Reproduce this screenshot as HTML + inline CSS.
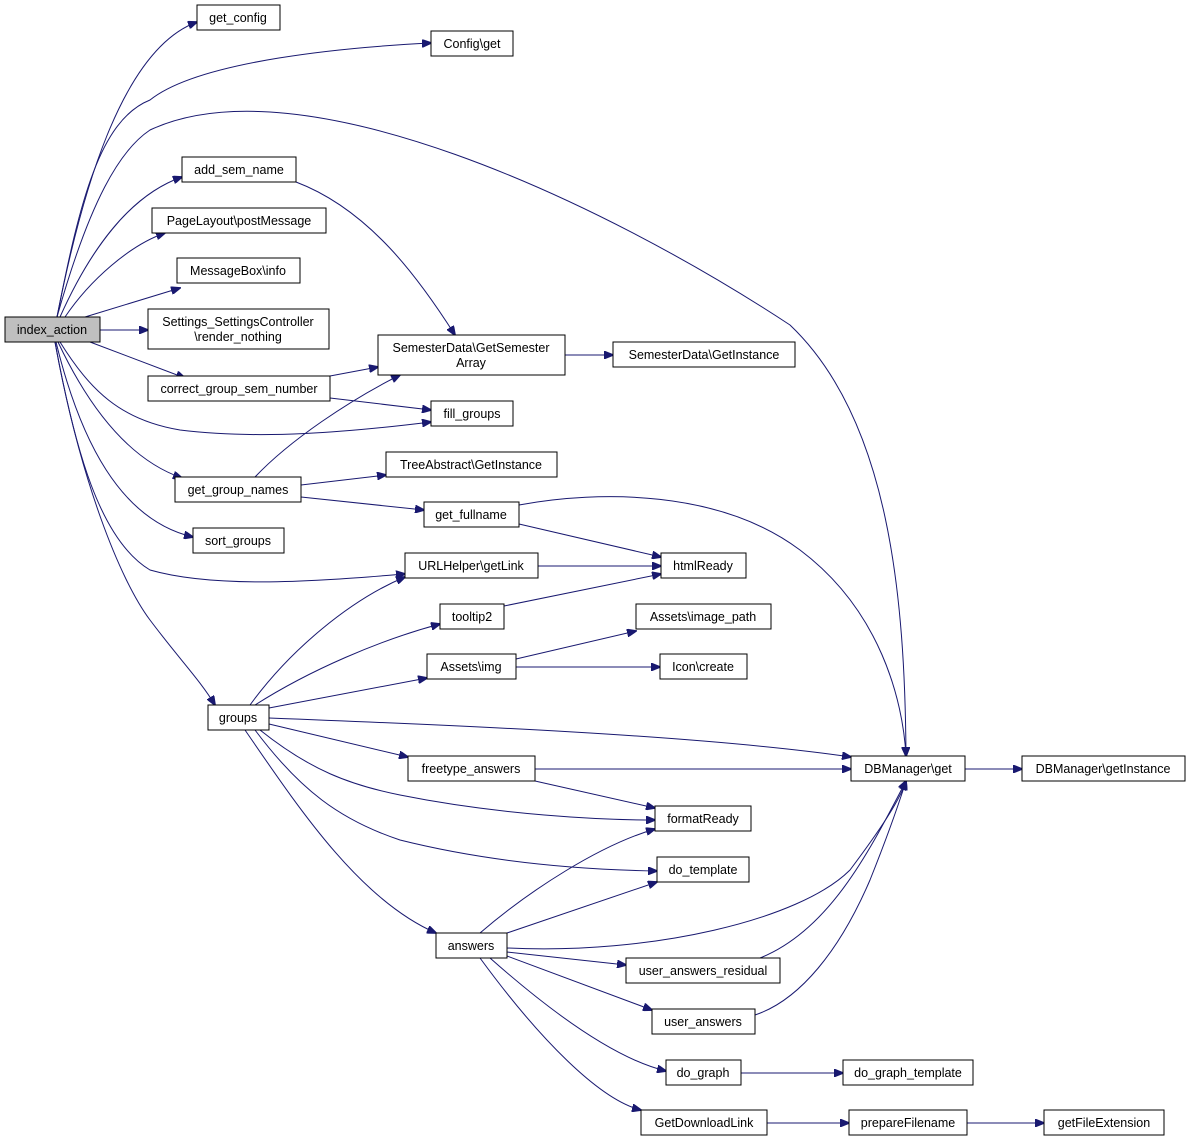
<!DOCTYPE html>
<html><head><meta charset="utf-8"><style>
html,body{margin:0;padding:0;background:#fff;}
svg{display:block;}
text{font-family:"Liberation Sans",Arial,sans-serif;font-size:12.5px;fill:#000;text-anchor:middle;}
.n{fill:#fff;stroke:#000;stroke-width:1;}
.e{fill:none;stroke:#191970;stroke-width:1;}
</style></head><body>
<svg width="1191" height="1143" viewBox="0 0 1191 1143" xmlns="http://www.w3.org/2000/svg">
<defs><marker id="a" markerWidth="10" markerHeight="8" refX="9" refY="4" orient="auto" markerUnits="userSpaceOnUse"><path d="M0,0 L10,4 L0,8 z" fill="#191970" stroke="#191970"/></marker></defs>
<g marker-end="url(#a)">
<path class="e" d="M57,317 C80,200 120,50 197,22"/>
<path class="e" d="M57,317 C80,200 100,120 150,100 C200,60 350,47 431,43"/>
<path class="e" d="M57,317 C90,200 120,150 150,130 C300,60 600,200 790,325 C890,420 905,600 906,756"/>
<path class="e" d="M60,317 C90,250 130,195 182,177"/>
<path class="e" d="M65,317 C90,280 130,245 165,233"/>
<path class="e" d="M85,317 L180,288"/>
<path class="e" d="M100,330 L148,330"/>
<path class="e" d="M90,342 L185,378"/>
<path class="e" d="M60,342 C90,390 120,420 180,430 C260,440 350,432 431,422"/>
<path class="e" d="M58,342 C90,410 130,460 182,478"/>
<path class="e" d="M56,342 C80,440 120,520 193,537"/>
<path class="e" d="M55,342 C75,450 100,540 150,570 C220,590 330,580 405,574"/>
<path class="e" d="M55,342 C80,480 120,580 150,620 C180,660 200,680 215,705"/>
<path class="e" d="M330,376 L378,367"/>
<path class="e" d="M330,398 L431,410"/>
<path class="e" d="M296,182 C370,210 420,280 455,335"/>
<path class="e" d="M565,355 L613,355"/>
<path class="e" d="M255,477 C290,440 350,400 400,375"/>
<path class="e" d="M301,485 L386,475"/>
<path class="e" d="M301,497 L424,510"/>
<path class="e" d="M519,524 L661,557"/>
<path class="e" d="M519,505 C600,490 720,490 800,550 C880,610 903,700 906,756"/>
<path class="e" d="M538,566 L661,566"/>
<path class="e" d="M504,606 L661,574"/>
<path class="e" d="M516,659 L636,631"/>
<path class="e" d="M516,667 L660,667"/>
<path class="e" d="M250,705 C290,650 350,600 405,577"/>
<path class="e" d="M255,705 C310,670 380,640 440,624"/>
<path class="e" d="M269,708 L427,678"/>
<path class="e" d="M269,718 C450,725 700,735 851,757"/>
<path class="e" d="M269,724 L408,757"/>
<path class="e" d="M260,730 C310,770 350,785 400,795 C500,815 600,820 655,820"/>
<path class="e" d="M255,730 C300,790 340,820 400,840 C500,865 600,870 657,871"/>
<path class="e" d="M245,730 C300,810 360,900 436,933"/>
<path class="e" d="M535,769 L851,769"/>
<path class="e" d="M535,781 L655,808"/>
<path class="e" d="M965,769 L1022,769"/>
<path class="e" d="M480,933 C530,890 600,845 655,829"/>
<path class="e" d="M507,933 L657,882"/>
<path class="e" d="M507,948 C650,955 800,920 850,870 C880,830 900,800 906,781"/>
<path class="e" d="M507,952 L626,965"/>
<path class="e" d="M507,956 L652,1010"/>
<path class="e" d="M490,958 C560,1020 620,1060 666,1071"/>
<path class="e" d="M480,958 C540,1040 600,1100 641,1110"/>
<path class="e" d="M760,958 C830,930 870,850 906,781"/>
<path class="e" d="M755,1015 C800,1000 840,950 870,880 C890,830 900,800 906,781"/>
<path class="e" d="M741,1073 L843,1073"/>
<path class="e" d="M767,1123 L849,1123"/>
<path class="e" d="M967,1123 L1044,1123"/>
</g>
<rect x="5" y="317" width="95" height="25" fill="#bfbfbf" stroke="#000"/><text x="52" y="334">index_action</text>
<rect class="n" x="197" y="5" width="83" height="25"/><text x="238" y="22">get_config</text>
<rect class="n" x="431" y="31" width="82" height="25"/><text x="472" y="48">Config\get</text>
<rect class="n" x="182" y="157" width="114" height="25"/><text x="239" y="174">add_sem_name</text>
<rect class="n" x="152" y="208" width="174" height="25"/><text x="239" y="225">PageLayout\postMessage</text>
<rect class="n" x="177" y="258" width="123" height="25"/><text x="238" y="275">MessageBox\info</text>
<rect class="n" x="148" y="309" width="181" height="40"/><text x="238" y="326">Settings_SettingsController</text><text x="238" y="341">\render_nothing</text>
<rect class="n" x="148" y="376" width="182" height="25"/><text x="239" y="393">correct_group_sem_number</text>
<rect class="n" x="378" y="335" width="187" height="40"/><text x="471" y="352">SemesterData\GetSemester</text><text x="471" y="367">Array</text>
<rect class="n" x="613" y="342" width="182" height="25"/><text x="704" y="359">SemesterData\GetInstance</text>
<rect class="n" x="431" y="401" width="82" height="25"/><text x="472" y="418">fill_groups</text>
<rect class="n" x="386" y="452" width="171" height="25"/><text x="471" y="469">TreeAbstract\GetInstance</text>
<rect class="n" x="175" y="477" width="126" height="25"/><text x="238" y="494">get_group_names</text>
<rect class="n" x="424" y="502" width="95" height="25"/><text x="471" y="519">get_fullname</text>
<rect class="n" x="193" y="528" width="91" height="25"/><text x="238" y="545">sort_groups</text>
<rect class="n" x="405" y="553" width="133" height="25"/><text x="471" y="570">URLHelper\getLink</text>
<rect class="n" x="661" y="553" width="85" height="25"/><text x="703" y="570">htmlReady</text>
<rect class="n" x="440" y="604" width="64" height="25"/><text x="472" y="621">tooltip2</text>
<rect class="n" x="636" y="604" width="135" height="25"/><text x="703" y="621">Assets\image_path</text>
<rect class="n" x="427" y="654" width="89" height="25"/><text x="471" y="671">Assets\img</text>
<rect class="n" x="660" y="654" width="87" height="25"/><text x="703" y="671">Icon\create</text>
<rect class="n" x="208" y="705" width="61" height="25"/><text x="238" y="722">groups</text>
<rect class="n" x="408" y="756" width="127" height="25"/><text x="471" y="773">freetype_answers</text>
<rect class="n" x="851" y="756" width="114" height="25"/><text x="908" y="773">DBManager\get</text>
<rect class="n" x="1022" y="756" width="163" height="25"/><text x="1103" y="773">DBManager\getInstance</text>
<rect class="n" x="655" y="806" width="96" height="25"/><text x="703" y="823">formatReady</text>
<rect class="n" x="657" y="857" width="92" height="25"/><text x="703" y="874">do_template</text>
<rect class="n" x="436" y="933" width="71" height="25"/><text x="471" y="950">answers</text>
<rect class="n" x="626" y="958" width="154" height="25"/><text x="703" y="975">user_answers_residual</text>
<rect class="n" x="652" y="1009" width="103" height="25"/><text x="703" y="1026">user_answers</text>
<rect class="n" x="666" y="1060" width="75" height="25"/><text x="703" y="1077">do_graph</text>
<rect class="n" x="843" y="1060" width="130" height="25"/><text x="908" y="1077">do_graph_template</text>
<rect class="n" x="641" y="1110" width="126" height="25"/><text x="704" y="1127">GetDownloadLink</text>
<rect class="n" x="849" y="1110" width="118" height="25"/><text x="908" y="1127">prepareFilename</text>
<rect class="n" x="1044" y="1110" width="120" height="25"/><text x="1104" y="1127">getFileExtension</text>
</svg>
</body></html>
